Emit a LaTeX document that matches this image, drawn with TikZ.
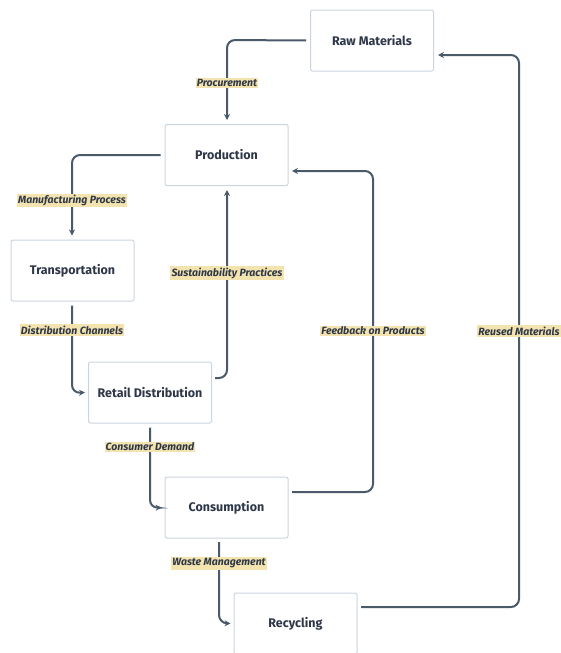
\documentclass[tikz,border=0pt]{standalone}
\usepackage{fontspec}
\setmainfont{Fira Sans}
\usetikzlibrary{arrows.meta}
\definecolor{boxline}{HTML}{CBD5E0}
\definecolor{conncol}{HTML}{4A5A6B}
\definecolor{txtcol}{HTML}{2D3748}
\definecolor{lblfill}{HTML}{F3E3AE}
\tikzset{
  box/.style={draw=boxline, line width=1pt, rounded corners=2pt, fill=white,
    minimum width=123pt, minimum height=61pt, inner sep=0pt,
    text=txtcol, font=\fontsize{12.5}{14}\selectfont\bfseries},
  conn/.style={draw=conncol, line width=2pt, rounded corners=8pt,
    -{Stealth[length=6pt,width=6pt]}},
  lbl/.style={fill=lblfill, text=txtcol, inner sep=1.2pt,
    font=\fontsize{10.5}{12}\selectfont\bfseries\itshape}
}
\begin{document}
\begin{tikzpicture}[x=1pt,y=-1pt]
\useasboundingbox (0,0) rectangle (560,653);
\node[box] (raw) at (372,40.5) {Raw Materials};
\node[box] (prod) at (226.5,155) {Production};
\node[box] (trans) at (72.5,270.5) {Transportation};
\node[box] (retail) at (150,392.5) {Retail Distribution};
\node[box] (cons) at (226.5,507.5) {Consumption};
\node[box] (rec) at (295.5,623.5) {Recycling};

\coordinate (c1) at (227,40);
\draw[conn] ([xshift=-4pt]raw.west) -- (c1) -- ([yshift=4pt]prod.north -| c1);
\node[lbl] (l1) at (227,83) {Procurement};

\coordinate (c2) at (72,155);
\draw[conn] ([xshift=-4pt]prod.west) -- (c2) -- ([yshift=4pt]trans.north -| c2);
\node[lbl] (l2) at (72,200.5) {Manufacturing Process};

\coordinate (c3) at (72,393);
\draw[conn] ([yshift=-4pt]trans.south -| c3) -- (c3) -- ([xshift=-3pt]retail.west);
\node[lbl] (l3) at (72,330) {Distribution Channels};

\coordinate (c4) at (227,378);
\draw[conn] (215,378) -- (c4) -- ([yshift=-4pt]prod.south -| c4);
\node[lbl] (l4) at (227,273) {Sustainability Practices};

\coordinate (c5) at (150,508);
\draw[conn] ([yshift=-4pt]retail.south -| c5) -- (c5) -- ([xshift=-3pt]cons.west);
\node[lbl] (l5) at (150,447) {Consumer Demand};

\draw[conn] (292,492) -- (373,492) -- (373,171) -- (292,171);
\node[lbl] (l6) at (373,331) {Feedback on Products};

\coordinate (c7) at (219,623);
\draw[conn] (219,542) -- (c7) -- ([xshift=-3pt]rec.west);
\node[lbl] (l7) at (219,563.5) {Waste Management};

\draw[conn] (361,607) -- (519,607) -- (519,55) -- (438,55);
\node[lbl] (l8) at (519,331) {Reused Materials};
\end{tikzpicture}
\end{document}
